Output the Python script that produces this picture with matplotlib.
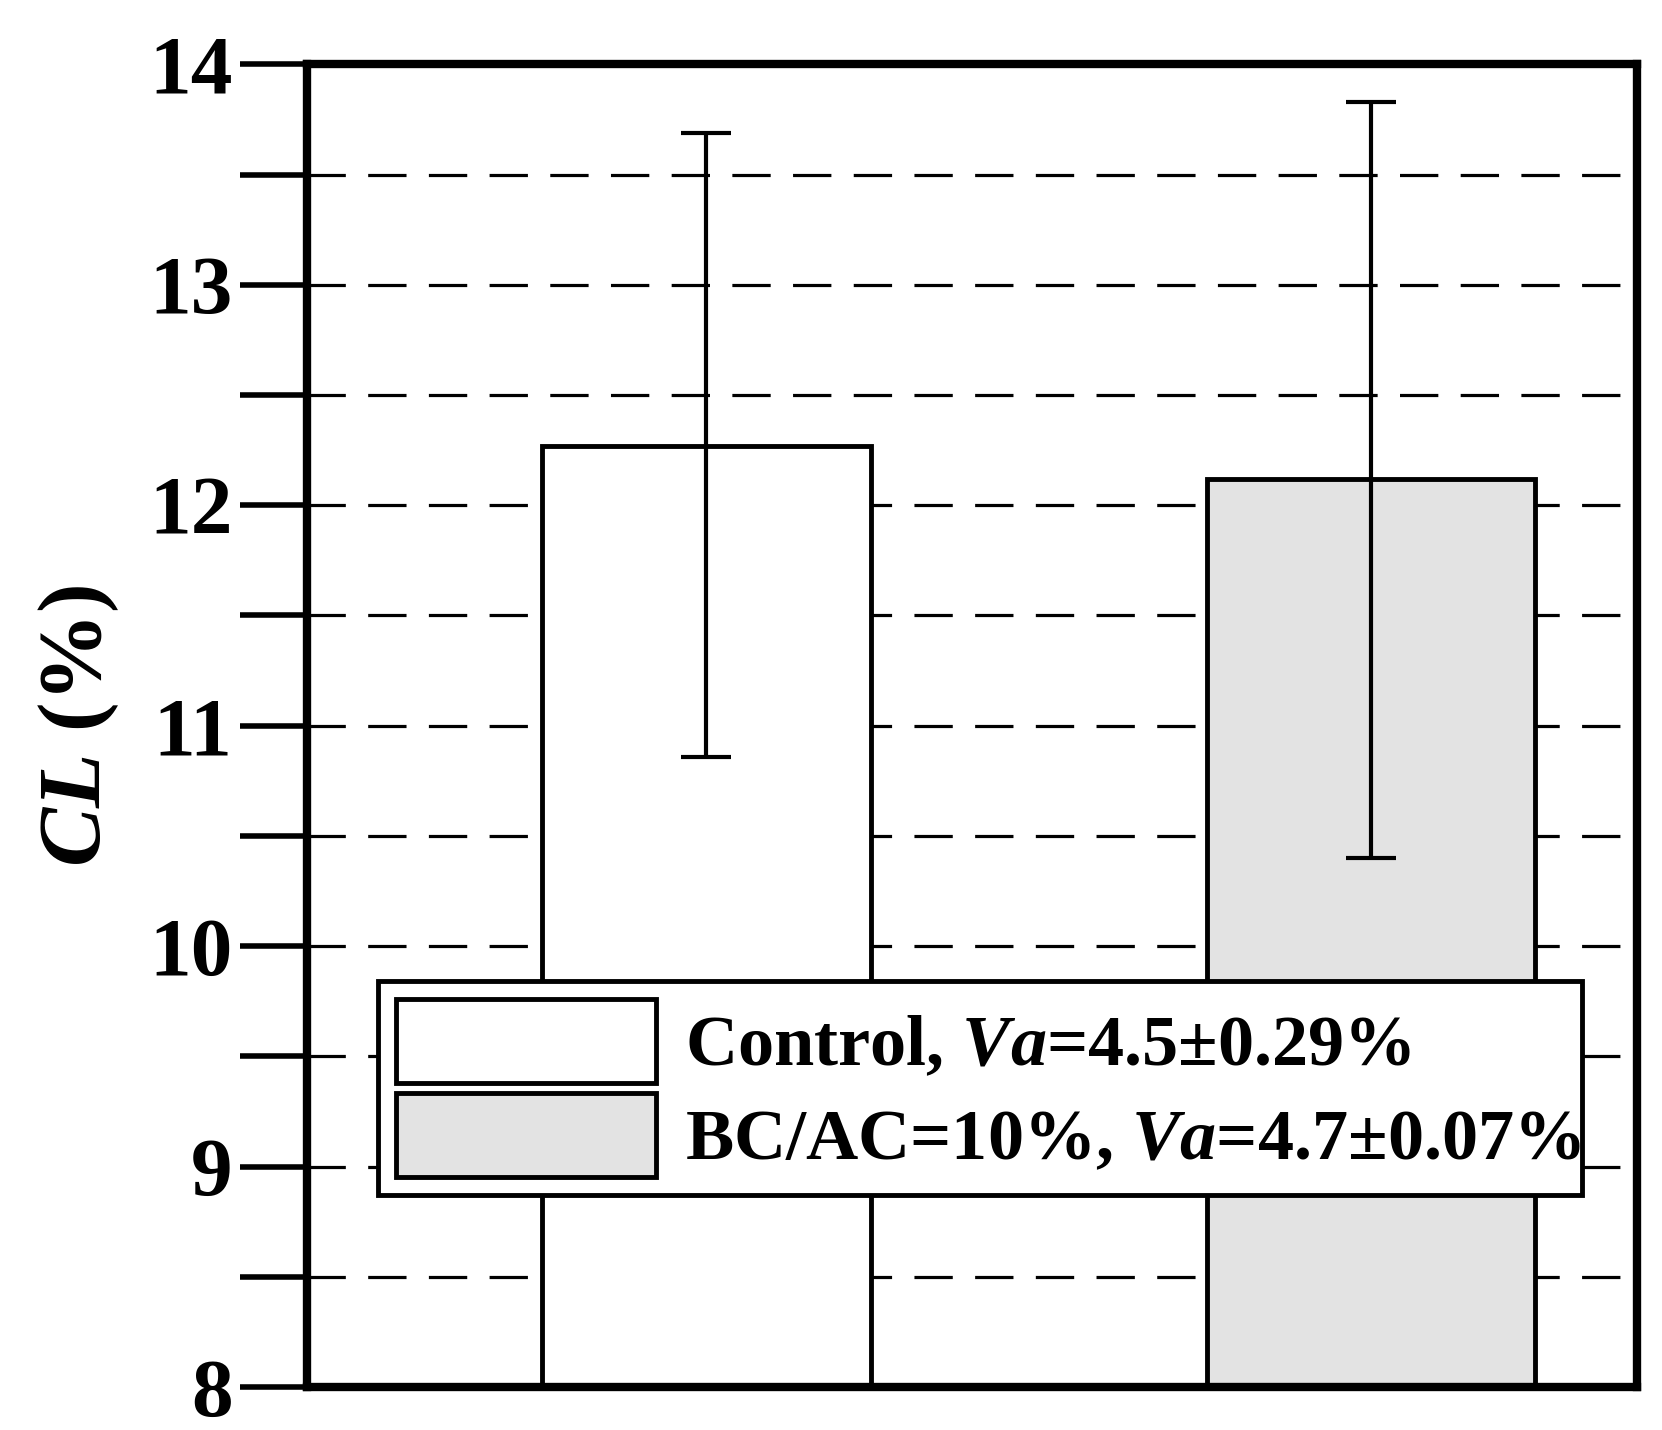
import matplotlib
matplotlib.use("Agg")
import matplotlib.pyplot as plt
from matplotlib.ticker import MultipleLocator

groups = ["Control", "BC/AC=10%"]
means = [12.27, 12.12]
err_hi = [13.69, 13.83]
err_lo = [10.86, 10.40]
labels = ["Control, $\\mathbfit{Va}$=4.5±0.29%", "BC/AC=10%, $\\mathbfit{Va}$=4.7±0.07%"]
colors = ["white", "#e3e3e3"]

plt.rcParams['font.family'] = ['Liberation Serif', 'DejaVu Serif']
plt.rcParams['font.weight'] = 'bold'
plt.rcParams['mathtext.fontset'] = 'custom'
plt.rcParams['mathtext.bfit'] = 'Liberation Serif:bold:italic'
plt.rcParams['mathtext.it'] = 'Liberation Serif:bold:italic'

fig = plt.figure(figsize=(16.62, 14.3), dpi=100)
ax = fig.add_axes([0.185, 0.03, 0.80, 0.925])
xs = [0.30, 0.80]
for x, m, hi, lo, c, lab in zip(xs, means, err_hi, err_lo, colors, labels):
    ax.bar(x, m - 8, bottom=8, width=0.247, color=c, edgecolor='black', linewidth=3.5, zorder=2, label=lab)
    ax.errorbar(x, m, yerr=[[m - lo], [hi - m]], fmt='none', ecolor='black', elinewidth=3, capsize=18, capthick=3, zorder=3)
ax.set_xlim(0, 1)
ax.set_ylim(8, 14)
ax.set_xticks([])
ax.yaxis.set_major_locator(MultipleLocator(1))
ax.yaxis.set_minor_locator(MultipleLocator(0.5))
ax.grid(axis='y', which='both', linestyle=(0, (12, 7)), color='black', linewidth=2.3, zorder=0)
ax.set_axisbelow(True)
ax.tick_params(axis='y', which='both', direction='out', length=48, width=4, labelsize=60, pad=6)
for s in ax.spines.values():
    s.set_linewidth(6)
for t in ax.get_yticklabels():
    t.set_fontweight('bold')
ax.set_ylabel("$\\mathbfit{CL}$ (%)", fontsize=64, fontweight='bold', labelpad=20)
leg = ax.legend(loc='lower left', bbox_to_anchor=(0.026, 0.118, 0.96, 0.176), mode='expand',
                prop={'weight': 'bold', 'size': 52}, handlelength=3.6, handleheight=1.4,
                fancybox=False, framealpha=1, edgecolor='black', borderpad=0.25, labelspacing=0.15,
                handletextpad=0.4)
leg.get_frame().set_linewidth(3.5)
leg.set_zorder(5)
fig.savefig("out.png", dpi=100)
